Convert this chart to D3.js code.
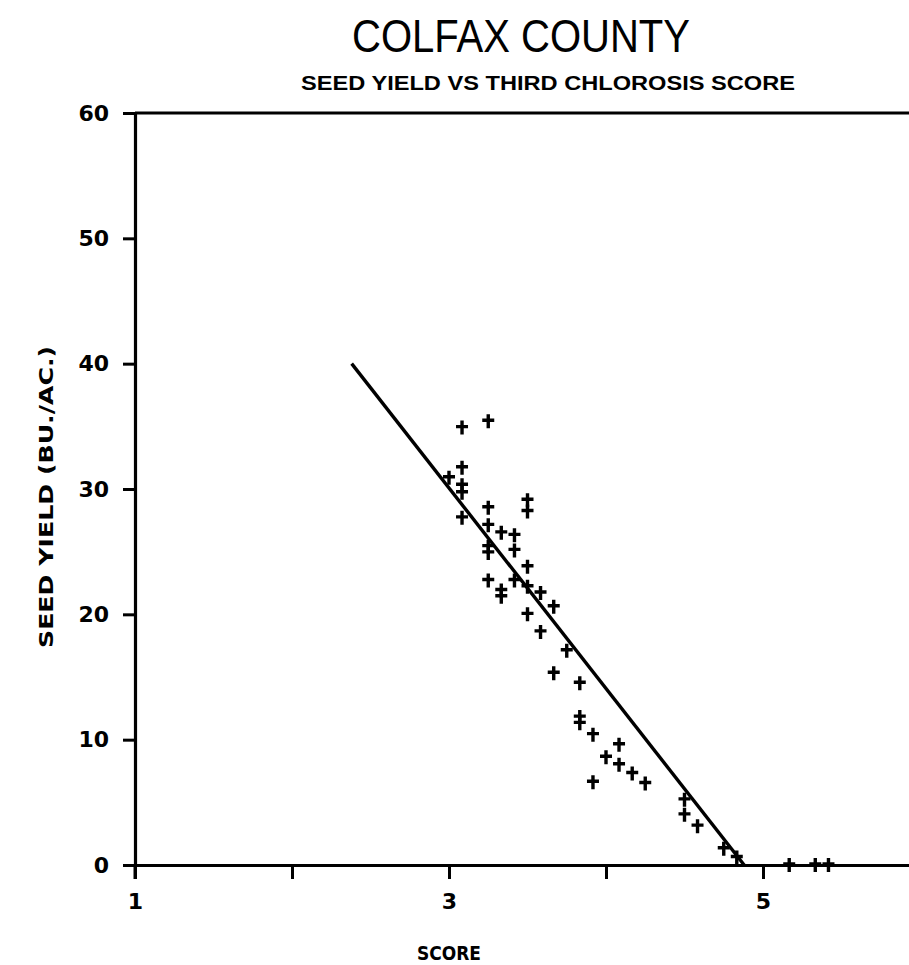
<!DOCTYPE html>
<html>
<head>
<meta charset="utf-8">
<script src="https://cdn.jsdelivr.net/npm/d3@7"></script>
<style>
  html, body { margin: 0; padding: 0; background: #fff; }
  svg { display: block; }
</style>
</head>
<body>
<div id="chart"></div>
<script>
// Third chlorosis score (mean rating) for each plot
const scores = [
  3.083, 3.25, 3.083, 3.0, 3.083, 3.083, 3.083,
  3.25, 3.25, 3.25, 3.25, 3.25,
  3.333, 3.333, 3.333,
  3.417, 3.417, 3.417,
  3.5, 3.5, 3.5, 3.5, 3.5,
  3.583, 3.583, 3.667, 3.75, 3.667,
  3.833, 3.833, 3.833, 3.917, 4.0, 4.083, 4.083,
  4.167, 4.25, 3.917,
  4.5, 4.5, 4.583, 4.75, 4.833,
  5.167, 5.333, 5.417
];
// Seed yield (bu./ac.) for the same plots
const yields = [
  34.9, 35.4, 31.7, 30.9, 30.3, 29.7, 27.7,
  28.5, 27.1, 25.4, 24.9, 22.7,
  26.5, 21.9, 21.4,
  26.3, 25.1, 22.7,
  29.1, 28.2, 23.8, 22.2, 20.0,
  21.7, 18.6, 20.6, 17.1, 15.3,
  14.5, 11.8, 11.3, 10.4, 8.6, 9.6, 8.0,
  7.3, 6.5, 6.6,
  5.2, 4.0, 3.1, 1.3, 0.6,
  0, 0, 0
];
// Fitted regression line end points
const fitScores = [2.38, 4.88];
const fitYields = [40.0, 0];

const xTicks = [1, 2, 3, 4, 5, 6];
const xTickLabels = ["1", "", "3", "", "5", ""];
const yTicks = [0, 10, 20, 30, 40, 50, 60];

const W = 909, H = 965;
const svg = d3.select("#chart").append("svg")
  .attr("width", W).attr("height", H);

const x = d3.scaleLinear().domain([1, 6]).range([135, 920]);
const y = d3.scaleLinear().domain([0, 60]).range([865, 113]);

const ink = "#000";

// Titles
svg.append("text")
  .attr("x", 521).attr("y", 52)
  .attr("text-anchor", "middle")
  .attr("font-family", "'Liberation Sans', Arial, sans-serif")
  .attr("font-size", 46)
  .attr("textLength", 338)
  .attr("lengthAdjust", "spacingAndGlyphs")
  .attr("fill", ink)
  .text("COLFAX COUNTY");

svg.append("text")
  .attr("x", 548).attr("y", 90)
  .attr("text-anchor", "middle")
  .attr("font-family", "'Liberation Sans', Arial, sans-serif")
  .attr("font-weight", "bold")
  .attr("font-size", 21)
  .attr("textLength", 494)
  .attr("lengthAdjust", "spacingAndGlyphs")
  .attr("fill", ink)
  .text("SEED YIELD VS THIRD CHLOROSIS SCORE");

// Axes
const xAxis = d3.axisBottom(x)
  .tickValues(xTicks)
  .tickFormat((d, i) => xTickLabels[i])
  .tickSize(14)
  .tickSizeOuter(0)
  .tickPadding(14);

const yAxis = d3.axisLeft(y)
  .tickValues(yTicks)
  .tickFormat(d3.format("d"))
  .tickSize(12)
  .tickSizeOuter(0)
  .tickPadding(14);

const gx = svg.append("g")
  .attr("transform", `translate(0,${y(0)})`)
  .call(xAxis);

const gy = svg.append("g")
  .attr("transform", `translate(${x(1)},0)`)
  .call(yAxis);

// Top frame line at 60
svg.append("line")
  .attr("x1", x(1)).attr("x2", x(6))
  .attr("y1", y(60)).attr("y2", y(60))
  .attr("stroke", ink).attr("stroke-width", 3.2);

// Left axis extends down through the first score tick
svg.append("line")
  .attr("x1", x(1)).attr("x2", x(1))
  .attr("y1", y(0)).attr("y2", y(0) + 14)
  .attr("stroke", ink).attr("stroke-width", 3);

[gx, gy].forEach(g => {
  g.select(".domain").attr("stroke", ink).attr("stroke-width", 3.2);
  g.selectAll(".tick line").attr("stroke", ink).attr("stroke-width", 3);
  g.selectAll(".tick text")
    .attr("fill", ink)
    .attr("font-family", "'DejaVu Sans', Verdana, sans-serif")
    .attr("font-weight", "bold")
    .attr("font-size", 22);
});

// Axis titles
svg.append("text")
  .attr("x", 449).attr("y", 960)
  .attr("text-anchor", "middle")
  .attr("font-family", "'DejaVu Sans', Verdana, sans-serif")
  .attr("font-weight", "bold")
  .attr("font-size", 20)
  .attr("textLength", 64)
  .attr("lengthAdjust", "spacingAndGlyphs")
  .attr("fill", ink)
  .text("SCORE");

svg.append("text")
  .attr("transform", "translate(53,497) rotate(-90)")
  .attr("text-anchor", "middle")
  .attr("font-family", "'DejaVu Sans', Verdana, sans-serif")
  .attr("font-weight", "bold")
  .attr("font-size", 19)
  .attr("textLength", 302)
  .attr("lengthAdjust", "spacingAndGlyphs")
  .attr("fill", ink)
  .text("SEED YIELD (BU./AC.)");

// Regression line
const fit = fitScores.map((s, i) => [s, fitYields[i]]);
svg.append("path")
  .datum(fit)
  .attr("fill", "none")
  .attr("stroke", ink)
  .attr("stroke-width", 3.4)
  .attr("d", d3.line().x(d => x(d[0])).y(d => y(d[1])));

// Plot markers: plus signs
const pts = scores.map((s, i) => ({ s, v: yields[i] }));
const mk = svg.append("g");
mk.selectAll("path")
  .data(pts)
  .join("path")
  .attr("transform", d => `translate(${x(d.s)},${y(d.v)})`)
  .attr("d", "M0,-7V7M-6,-1H6")
  .attr("fill", "none")
  .attr("stroke", ink)
  .attr("stroke-width", 3.4);
</script>
</body>
</html>
